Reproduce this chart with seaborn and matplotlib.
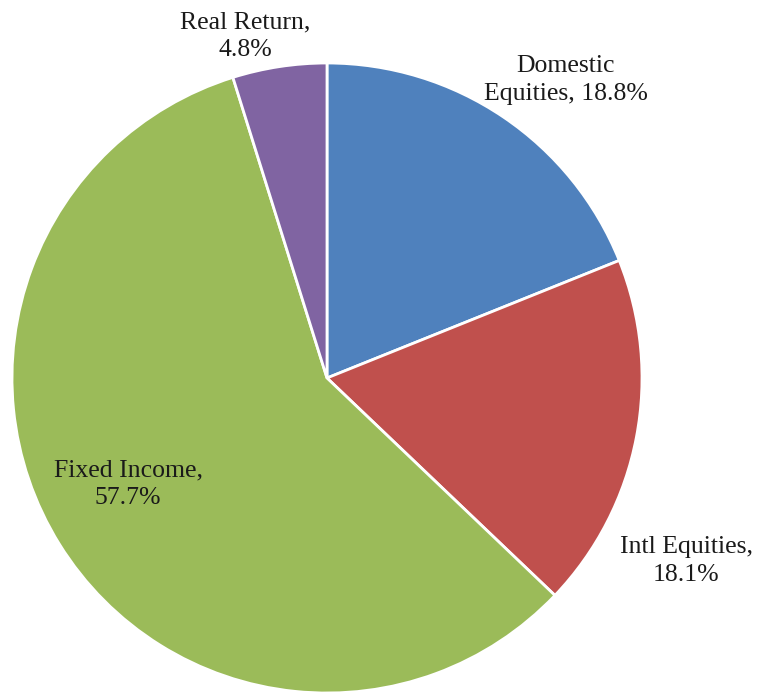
import matplotlib
matplotlib.use("Agg")
import matplotlib.pyplot as plt
import seaborn as sns

categories = ["Domestic Equities", "Intl Equities", "Fixed Income", "Real Return"]
values = [18.8, 18.1, 57.7, 4.8]
labels = ["Domestic\nEquities, 18.8%", "Intl Equities,\n18.1%", "Fixed Income,\n57.7%", "Real Return,\n4.8%"]
colors = ["#4F81BD", "#C0504D", "#9BBB59", "#8064A2"]

sns.set_theme(style="white")
plt.rcParams["font.family"] = ["Liberation Serif", "DejaVu Serif"]

W, H = 760, 692
fig = plt.figure(figsize=(W / 100, H / 100), dpi=100)
ax = fig.add_axes([0, 0, 1, 1])

cx, cy, r = 327, H - 378, 315
ax.pie(values, colors=colors, startangle=90, counterclock=False,
       center=(cx, cy), radius=r, frame=True,
       wedgeprops=dict(edgecolor="white", linewidth=2))
ax.set_xlim(0, W)
ax.set_ylim(0, H)
ax.set_aspect("equal")
ax.axis("off")

label_pos = [(566, H - 80), (686, H - 561), (128, H - 484), (245, H - 36)]
for (x, y), t in zip(label_pos, labels):
    ax.text(x, y, t, ha="center", va="center", fontsize=18.5, color="#1a1a1a",
            linespacing=1.3)

fig.savefig("out.png", dpi=100)
